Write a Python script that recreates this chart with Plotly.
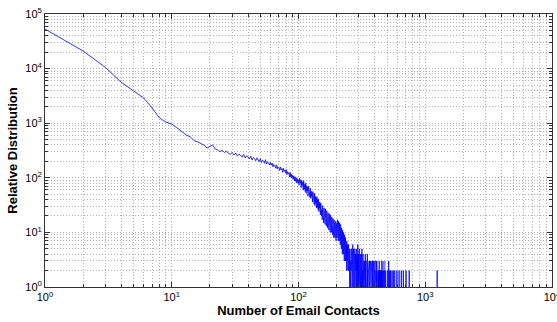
import plotly.graph_objects as go

# Number of email contacts (x = 1..500, one count per integer)
counts_head = [53000, 21000, 10500, 5600, 3900, 2900, 1900, 1250, 1050, 960,
               820, 690, 610, 560, 480, 455, 430, 395, 350, 370,
               400, 340, 325, 300, 320, 290, 310, 280, 270, 290,
               262, 285, 250, 272, 258, 240, 268, 230, 252, 244,
               222, 250, 212, 236, 226, 205, 232, 214, 198, 224,
               190, 210, 204, 184, 215, 180, 196, 188, 172, 192]
counts_mid = [170, 186, 158, 176, 168, 150, 172, 146, 160, 152,
              136, 158, 140, 148, 126, 150, 132, 138, 122, 142,
              114, 130, 118, 124, 104, 126, 102, 116, 98, 112,
              94, 108, 88, 104, 86, 100, 80, 96, 82, 90]
counts_101_150 = [74, 98, 80, 92, 66, 90, 72, 84, 60, 88,
                  62, 76, 56, 80, 52, 72, 58, 68, 46, 70,
                  50, 60, 44, 64, 42, 57, 45, 54, 36, 56,
                  38, 48, 33, 52, 31, 46, 35, 43, 28, 45,
                  29, 39, 26, 41, 24, 36, 28, 33, 21, 35]
counts_151_200 = [30, 20, 26, 17, 31, 21, 24, 15, 28, 19,
                  22, 14, 27, 18, 20, 13, 25, 16, 19, 12,
                  23, 15, 18, 11, 22, 14, 17, 10, 21, 13,
                  16, 10, 19, 12, 15, 9, 18, 11, 14, 8,
                  17, 10, 13, 8, 16, 9, 12, 7, 15, 9]
counts_201_260 = [15, 8, 17, 9, 14, 7, 16, 8, 13, 7,
                  15, 7, 12, 6, 14, 6, 11, 5, 12, 5,
                  10, 4, 11, 5, 9, 4, 10, 4, 8, 3,
                  9, 4, 7, 3, 8, 3, 7, 3, 6, 2,
                  7, 3, 6, 2, 6, 2, 5, 2, 6, 2,
                  5, 2, 4, 1, 5, 2, 4, 1, 3, 2]
counts_261_330 = [4, 2, 5, 3, 1, 4, 2, 6, 3, 1,
                  3, 5, 2, 4, 1, 3, 2, 5, 3, 1,
                  2, 4, 1, 3, 2, 5, 1, 3, 2, 4,
                  1, 3, 2, 6, 1, 2, 4, 1, 3, 2,
                  1, 5, 2, 3, 1, 2, 4, 1, 2, 3,
                  1, 4, 2, 1, 3, 2, 5, 1, 2, 3,
                  1, 2, 4, 1, 3, 1, 2, 3, 1, 2]
counts_331_450 = [2, 1, 3, 1, 0, 2, 4, 1, 2, 1,
                  3, 1, 2, 0, 1, 3, 1, 2, 1, 4,
                  1, 2, 1, 0, 3, 1, 2, 1, 3, 1,
                  0, 2, 1, 3, 1, 2, 0, 1, 2, 1,
                  3, 1, 1, 2, 0, 3, 1, 2, 1, 1,
                  2, 0, 1, 3, 1, 2, 1, 0, 2, 1,
                  1, 3, 1, 2, 0, 1, 2, 1, 3, 0,
                  1, 2, 1, 1, 3, 0, 2, 1, 1, 2,
                  0, 1, 3, 1, 2, 1, 0, 2, 1, 1,
                  2, 1, 0, 3, 1, 1, 2, 0, 1, 2,
                  1, 0, 2, 1, 1, 3, 0, 1, 2, 1,
                  0, 1, 2, 1, 0, 2, 1, 1, 0, 2]
counts_451_500 = [1, 2, 0, 1, 3, 1, 0, 2, 1, 0,
                  1, 2, 0, 1, 1, 3, 0, 1, 2, 0,
                  1, 0, 2, 1, 0, 1, 2, 0, 0, 1,
                  3, 0, 1, 0, 2, 1, 0, 0, 2, 1,
                  0, 1, 0, 2, 0, 1, 0, 0, 2, 0]

# Sparse tail: isolated contact counts and their frequency (neighbours are 1)
tail_x = [506, 515, 524, 533, 547, 560, 575, 598, 622, 648, 672, 706, 748, 1243]
tail_y = [2, 3, 2, 2, 2, 2, 2, 2, 2, 2, 2, 2, 2, 2]

x_ticks = [1, 10, 100, 1000, 10000]
x_ticklabels = ["10<sup>0</sup>", "10<sup>1</sup>", "10<sup>2</sup>", "10<sup>3</sup>", "10<sup>4</sup>"]
y_ticks = [1, 10, 100, 1000, 10000, 100000]
y_ticklabels = ["10<sup>0</sup>", "10<sup>1</sup>", "10<sup>2</sup>", "10<sup>3</sup>", "10<sup>4</sup>", "10<sup>5</sup>"]

counts = (counts_head + counts_mid + counts_101_150 + counts_151_200 +
          counts_201_260 + counts_261_330 + counts_331_450 + counts_451_500)
xs = list(range(1, len(counts) + 1))
ys = [c if c > 0 else None for c in counts]
for tx, ty in zip(tail_x, tail_y):
    xs += [None, tx - 1, tx, tx + 1]
    ys += [None, 1, ty, 1]

def minor_vals(decades):
    out = []
    for d in decades[:-1]:
        out += [d * k for k in range(2, 10)]
    return out

fig = go.Figure()
fig.add_trace(go.Scatter(x=xs, y=ys, mode="lines",
                         line=dict(color="#0000ff", width=0.8),
                         connectgaps=False, showlegend=False, hoverinfo="skip"))

font_family = "Liberation Sans, Arial, Helvetica, sans-serif"
grid_col = "#b4b4b4"
grid_dash = "1px,2px"
axis_common = dict(
    type="log", showline=True, mirror="ticks", linecolor="#333333", linewidth=1,
    ticks="inside", ticklen=5, tickcolor="#333333",
    showgrid=True, gridcolor=grid_col, griddash=grid_dash, gridwidth=1,
    tickfont=dict(family=font_family, size=11, color="#000000"),
    zeroline=False, layer="above traces", automargin=False,
    ticklabeloverflow="allow",
)

fig.update_xaxes(
    **axis_common, range=[0, 4.0005], tickmode="array", tickvals=x_ticks, ticktext=x_ticklabels,
    minor=dict(tickmode="array", tickvals=minor_vals(x_ticks), ticks="inside", ticklen=3,
               tickcolor="#333333", showgrid=True, gridcolor=grid_col, griddash=grid_dash, gridwidth=1),
    title=dict(text="<b>Number of Email Contacts</b>", standoff=1,
               font=dict(family=font_family, size=13, color="#000000")),
)
fig.update_yaxes(
    **axis_common, range=[0, 5], tickmode="array", tickvals=y_ticks, ticktext=y_ticklabels,
    minor=dict(tickmode="array", tickvals=minor_vals(y_ticks), ticks="inside", ticklen=3,
               tickcolor="#333333", showgrid=True, gridcolor=grid_col, griddash=grid_dash, gridwidth=1),
    title=dict(text="<b>Relative Distribution</b>", standoff=4,
               font=dict(family=font_family, size=13, color="#000000")),
)

fig.update_layout(
    width=557, height=322,
    margin=dict(l=45, r=5, t=14, b=35, autoexpand=False),
    paper_bgcolor="#ffffff", plot_bgcolor="#ffffff",
    font=dict(family=font_family),
)

fig.write_html("out.html", config={"displayModeBar": False},
               post_script="document.body.style.margin='0';")
